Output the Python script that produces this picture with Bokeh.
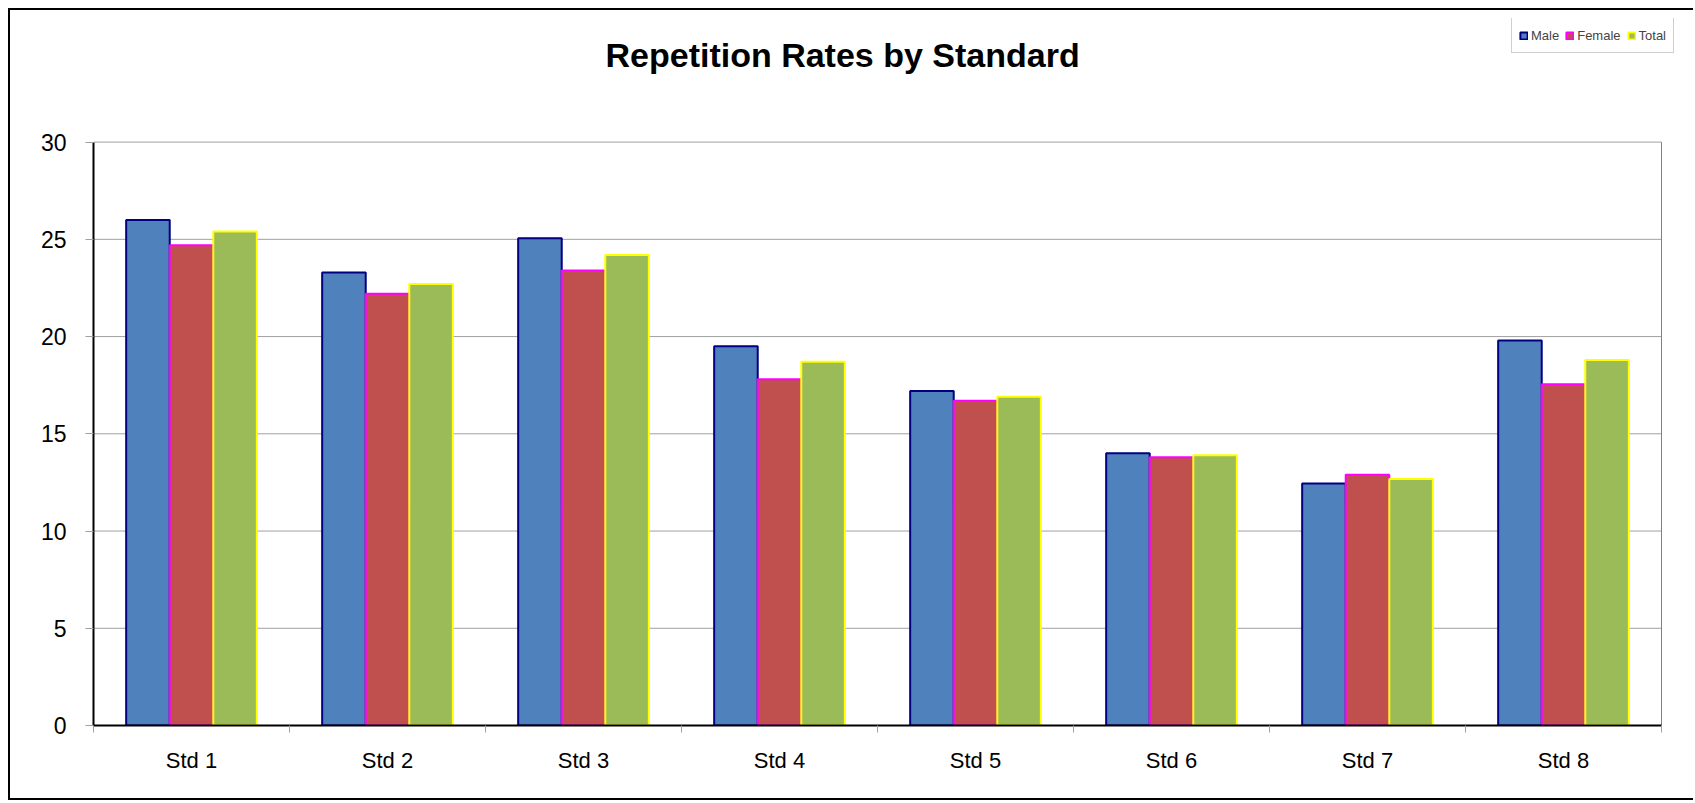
from bokeh.plotting import figure
from bokeh.models import ColumnDataSource, Range1d, FixedTicker, Legend, LegendItem, Label
from bokeh.transform import dodge
from bokeh.embed import file_html
from bokeh.resources import INLINE
import numpy as np

categories = ["Std 1", "Std 2", "Std 3", "Std 4", "Std 5", "Std 6", "Std 7", "Std 8"]
male = [26.0, 23.3, 25.05, 19.5, 17.2, 14.0, 12.45, 19.8]
female = [24.7, 22.2, 23.4, 17.8, 16.7, 13.8, 12.9, 17.55]
total = [25.4, 22.7, 24.2, 18.7, 16.9, 13.9, 12.67, 18.8]
y_ticks = [0, 5, 10, 15, 20, 25, 30]

FONT = "Liberation Sans"
BAR_W = 1 / 4.5

# layout (pixels)
FIG_W, FIG_H = 1685, 792
MB_L, MB_R, MB_T, MB_B = 83, 4, 8, 77
PLOT_W, PLOT_H = 1568.0, 583.4          # size of the value area (0..8, 0..30)
frame_w = FIG_W - MB_L - MB_R
frame_h = FIG_H - MB_T - MB_B
n = len(categories)
y_max = y_ticks[-1]
x_end = n * frame_w / PLOT_W
y_end = y_max * frame_h / PLOT_H
ppu = PLOT_H / y_max

centers = list(np.arange(n) + 0.5)
source = ColumnDataSource(dict(x=centers, cat=categories, male=male, female=female, total=total))

p = figure(width=FIG_W, height=FIG_H, output_backend="svg", toolbar_location=None,
           x_range=Range1d(0, x_end), y_range=Range1d(0, y_end),
           min_border_left=MB_L, min_border_right=MB_R, min_border_top=MB_T, min_border_bottom=MB_B)
p.margin = (8, 0, 0, 8)
p.styles = {"border-left": "2px solid black", "border-top": "2px solid black",
            "border-bottom": "2px solid black"}
p.background_fill_color = "white"
p.border_fill_color = "white"
p.outline_line_color = None

# horizontal gridlines (the one at 30 is the top of the plot area) and right edge
grid_y = y_ticks[1:]
p.segment(x0=[0] * len(grid_y), y0=grid_y, x1=[n] * len(grid_y), y1=grid_y,
          line_color="#A0A0A0", line_width=1)
p.segment(x0=[n], y0=[0], x1=[n], y1=[y_max], line_color="#808080", line_width=1)

series = [("Male", "male", "#4F81BD", "#000080", -BAR_W),
          ("Female", "female", "#C0504D", "#FF00FF", 0.0),
          ("Total", "total", "#9BBB59", "#FFFF00", BAR_W)]
items = []
for name, col, fill, line, off in series:
    r = p.vbar(x=dodge("x", off, range=p.x_range), top=col, width=BAR_W, bottom=0,
               source=source, fill_color=fill, line_color=line, line_width=2)
    items.append(LegendItem(label=name, renderers=[r]))

# title
title = Label(x=0, y=y_max + (141.6 - 54) / ppu, x_offset=512,
              text="Repetition Rates by Standard", text_font=FONT, text_font_size="34px",
              text_font_style="bold", text_color="black", text_align="left",
              text_baseline="middle")
p.add_layout(title)

# y axis
p.yaxis.bounds = (0, y_max)
p.yaxis.ticker = FixedTicker(ticks=y_ticks)
p.yaxis.axis_line_color = "black"
p.yaxis.axis_line_width = 2
p.yaxis.major_tick_line_color = "#A0A0A0"
p.yaxis.major_tick_out = 8
p.yaxis.major_tick_in = 0
p.yaxis.minor_tick_line_color = None
p.yaxis.major_label_text_font = FONT
p.yaxis.major_label_text_font_size = "23px"
p.yaxis.major_label_text_color = "black"
p.yaxis.major_label_standoff = 19

# x axis: labels at centers, ticks at category boundaries
p.xaxis.bounds = (0, n)
p.xaxis.ticker = FixedTicker(ticks=centers, minor_ticks=list(range(n + 1)))
p.xaxis.major_label_overrides = {float(c): lab for c, lab in zip(centers, categories)}
p.xaxis.axis_line_color = "black"
p.xaxis.axis_line_width = 2
p.xaxis.major_tick_line_color = None
p.xaxis.major_tick_out = 0
p.xaxis.major_tick_in = 0
p.xaxis.minor_tick_line_color = "#A0A0A0"
p.xaxis.minor_tick_out = 7
p.xaxis.minor_tick_in = 0
p.xaxis.major_label_text_font = FONT
p.xaxis.major_label_text_font_size = "22px"
p.xaxis.major_label_text_color = "black"
p.xaxis.major_label_standoff = 15

p.xgrid.grid_line_color = None
p.ygrid.grid_line_color = None

legend = Legend(items=items, orientation="horizontal", location=(1418, 672),
                label_text_font=FONT, label_text_font_size="13px",
                glyph_width=9, glyph_height=9, label_standoff=3, spacing=6,
                padding=7, margin=0, border_line_color="#A0A0A0",
                label_height=20)
p.add_layout(legend, "center")

open("out.html", "w").write(file_html(p, INLINE))
